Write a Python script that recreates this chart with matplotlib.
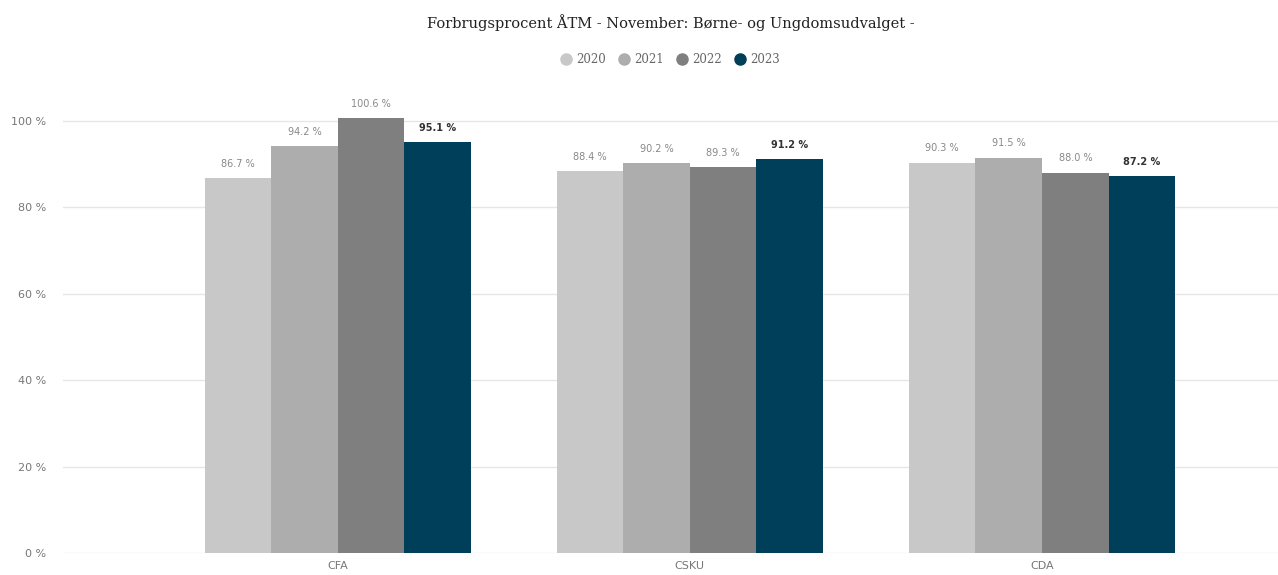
import numpy as np
import matplotlib
matplotlib.use('Agg')
import matplotlib.pyplot as plt
from matplotlib.lines import Line2D

kategorier = ['CFA', 'CSKU', 'CDA']
aar = ['2020', '2021', '2022', '2023']
v2020 = [86.7, 88.4, 90.3]
v2021 = [94.2, 90.2, 91.5]
v2022 = [100.6, 89.3, 88.0]
v2023 = [95.1, 91.2, 87.2]
farver = ['#c8c8c8', '#adadad', '#7f7f7f', '#003f5a']

serier = [v2020, v2021, v2022, v2023]

fig = plt.figure(figsize=(12.78, 5.75), dpi=100)
ax = fig.add_axes([63 / 1278, 1 - 553 / 575, (1278 - 63) / 1278, 105 * 4.32 / 575])

x = np.arange(len(kategorier))
bredde = 0.189
for i, (vals, farve) in enumerate(zip(serier, farver)):
    pos = x + (i - 1.5) * bredde
    ax.bar(pos, vals, bredde, color=farve, zorder=2)
    # dataetiketter, 2023 fremhaevet
    for p, v in zip(pos, vals):
        if i == 3:
            ax.text(p, v + 2.2, f'{v:.1f} %', ha='center', va='bottom', fontsize=7,
                    color='#333333', fontweight='bold', clip_on=False)
        else:
            ax.text(p, v + 2.2, f'{v:.1f} %', ha='center', va='bottom', fontsize=7,
                    color='#888888', clip_on=False)

ax.set_xlim(-0.78, 2.67)
ax.set_ylim(0, 105)
ax.set_yticks([0, 20, 40, 60, 80, 100])
ax.set_yticklabels(['0 %', '20 %', '40 %', '60 %', '80 %', '100 %'])
ax.set_xticks(x)
ax.set_xticklabels(kategorier)
ax.tick_params(axis='both', length=0, labelsize=8, labelcolor='#777777')
ax.tick_params(axis='y', pad=12)
ax.tick_params(axis='x', pad=6)
ax.grid(True, axis='y', color='#e6e6e6', linewidth=1, zorder=0)
for s in ax.spines.values():
    s.set_visible(False)

fig.text(0.525, 1 - 23 / 575, 'Forbrugsprocent ÅTM - November: Børne- og Ungdomsudvalget -',
         ha='center', va='center', fontsize=10.5, family='DejaVu Serif', color='#222222')

handles = [Line2D([], [], marker='o', linestyle='', markersize=8, color=f) for f in farver]
fig.legend(handles, aar, loc='center', bbox_to_anchor=(0.522, 1 - 60 / 575), ncol=4,
           frameon=False, handletextpad=-0.1, columnspacing=0.5,
           prop={'family': 'DejaVu Serif', 'size': 8.5}, labelcolor='#666666')

fig.savefig('out.png', dpi=100)
